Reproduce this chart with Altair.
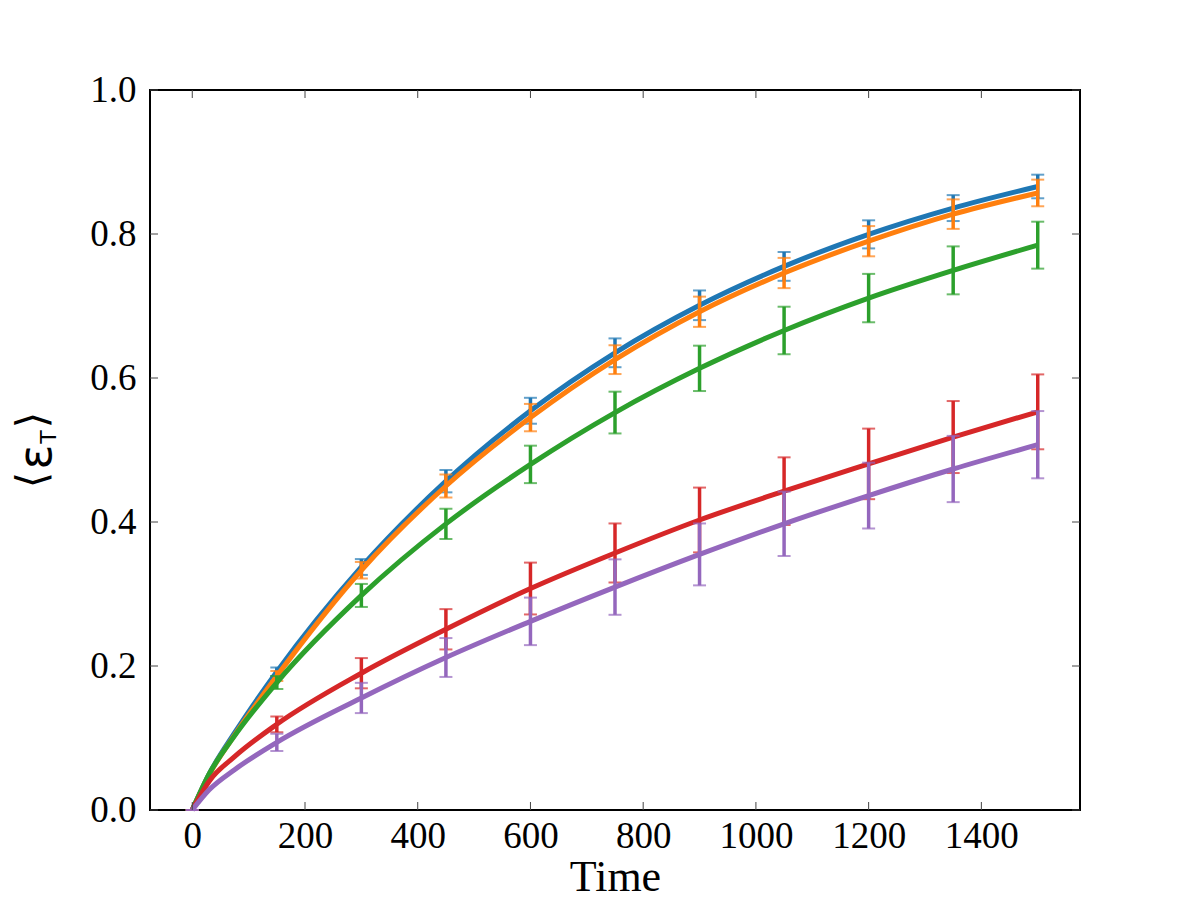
import altair as alt
import pandas as pd

# Sample times with error bars
t_bar = [0, 150, 300, 450, 600, 750, 900, 1050, 1200, 1350, 1500]
# Extra early-time points on the curves
t_early = [30, 75]

series_names = ["s1", "s2", "s3", "s4", "s5"]
colors = ["#1f77b4", "#ff7f0e", "#2ca02c", "#d62728", "#9467bd"]

means = {
    "s1": [0.0, 0.192, 0.3375, 0.4567, 0.5545, 0.635, 0.701, 0.755, 0.7995, 0.836, 0.866],
    "s2": [0.0, 0.186, 0.333, 0.450, 0.545, 0.6255, 0.692, 0.7458, 0.790, 0.8276, 0.857],
    "s3": [0.0, 0.177, 0.298, 0.3974, 0.480, 0.552, 0.6134, 0.666, 0.711, 0.7495, 0.7845],
    "s4": [0.0, 0.119, 0.190, 0.251, 0.3076, 0.357, 0.4028, 0.4428, 0.4807, 0.518, 0.553],
    "s5": [0.0, 0.094, 0.1556, 0.2118, 0.262, 0.3096, 0.355, 0.3975, 0.4367, 0.4736, 0.5074],
}
errors = {
    "s1": [0.0, 0.006, 0.011, 0.0155, 0.018, 0.020, 0.0206, 0.020, 0.0195, 0.018, 0.0164],
    "s2": [0.0, 0.007, 0.0115, 0.016, 0.019, 0.020, 0.021, 0.021, 0.021, 0.0205, 0.0185],
    "s3": [0.0, 0.009, 0.016, 0.021, 0.026, 0.029, 0.0315, 0.033, 0.0336, 0.0333, 0.0326],
    "s4": [0.0, 0.011, 0.021, 0.028, 0.036, 0.041, 0.045, 0.047, 0.049, 0.050, 0.052],
    "s5": [0.0, 0.012, 0.021, 0.027, 0.033, 0.0385, 0.043, 0.0447, 0.0457, 0.046, 0.0467],
}
early_vals = {
    "s1": [0.050, 0.107],
    "s2": [0.049, 0.104],
    "s3": [0.050, 0.103],
    "s4": [0.040, 0.074],
    "s5": [0.028, 0.056],
}

x_ticks = [0, 200, 400, 600, 800, 1000, 1200, 1400]
y_ticks = [0.0, 0.2, 0.4, 0.6, 0.8, 1.0]

W, H = 930, 720
SERIF = "Liberation Serif"

x_scale = alt.Scale(domain=[-75, 1575], nice=False, zero=False)
y_scale = alt.Scale(domain=[0, 1], nice=False, zero=False)

x_axis = alt.Axis(
    values=x_ticks, title="Time", format="d", ticks=False, domain=False, grid=False,
    labelFont=SERIF, labelFontSize=37, labelColor="black", labelPadding=8,
    labelFlush=False, labelOverlap=False,
    titleFont=SERIF, titleFontSize=44, titleFontWeight="normal",
    titleColor="black", titleBaseline="alphabetic", titleY=80,
)
y_axis = alt.Axis(
    values=y_ticks, title=None, format=".1f", ticks=False, domain=False,
    grid=False, labelFont=SERIF, labelFontSize=37, labelColor="black",
    labelPadding=14, labelFlush=False, labelOverlap=False,
)


def X(field):
    return alt.X(f"{field}:Q", scale=x_scale, axis=x_axis)


def Y(field):
    return alt.Y(f"{field}:Q", scale=y_scale, axis=y_axis)


layers = []
for name, color in zip(series_names, colors):
    line_t = [t_bar[0]] + t_early + t_bar[1:]
    line_v = [means[name][0]] + early_vals[name] + means[name][1:]
    df_line = pd.DataFrame({"t": line_t, "v": line_v})
    df_bar = pd.DataFrame({
        "t": t_bar,
        "lo": [m - e for m, e in zip(means[name], errors[name])],
        "hi": [m + e for m, e in zip(means[name], errors[name])],
    })
    layers.append(
        alt.Chart(df_line).mark_line(color=color, strokeWidth=5, interpolate="monotone")
        .encode(x=X("t"), y=Y("v"))
    )
    layers.append(
        alt.Chart(df_bar).mark_rule(color=color, strokeWidth=3.5)
        .encode(x=X("t"), y=Y("lo"), y2="hi:Q")
    )
    for end in ["lo", "hi"]:
        layers.append(
            alt.Chart(df_bar).mark_tick(color=color, thickness=2, size=13, orient="horizontal")
            .encode(x=X("t"), y=Y(end))
        )

# Inward tick marks on all four sides of the frame
df_xt = pd.DataFrame({"xt": x_ticks})
df_yt = pd.DataFrame({"yt": y_ticks})
tick_color = "#444444"
layers.append(alt.Chart(df_xt).mark_rule(color=tick_color, strokeWidth=1)
              .encode(x=X("xt"), y=alt.value(H), y2=alt.value(H - 8)))
layers.append(alt.Chart(df_xt).mark_rule(color=tick_color, strokeWidth=1)
              .encode(x=X("xt"), y=alt.value(0), y2=alt.value(8)))
layers.append(alt.Chart(df_yt).mark_rule(color=tick_color, strokeWidth=1)
              .encode(y=Y("yt"), x=alt.value(0), x2=alt.value(8)))
layers.append(alt.Chart(df_yt).mark_rule(color=tick_color, strokeWidth=1)
              .encode(y=Y("yt"), x=alt.value(W - 8), x2=alt.value(W)))

# Y-axis label: <epsilon_T>, built from rotated text pieces
one = pd.DataFrame({"k": [0]})
label_font = "DejaVu Sans"
pieces = [
    ("\u27e8", -117, 390, 42),
    ("\u03b5", -113, 367, 46),
    ("T", -101, 347, 22),
    ("\u27e9", -117, 330, 42),
]
for txt, px, py, fs in pieces:
    layers.append(
        alt.Chart(one).mark_text(
            text=txt, angle=270, font=label_font, fontSize=fs, color="black",
            align="center", baseline="middle",
        ).encode(x=alt.value(px), y=alt.value(py))
    )

chart = (
    alt.layer(*layers)
    .properties(
        width=W, height=H, autosize="none",
        padding={"left": 150, "top": 90, "right": 120, "bottom": 90},
        background="white",
    )
    .configure_view(stroke="black", strokeWidth=2)
)

chart.save("out.html", embed_options={"renderer": "svg", "actions": False})
